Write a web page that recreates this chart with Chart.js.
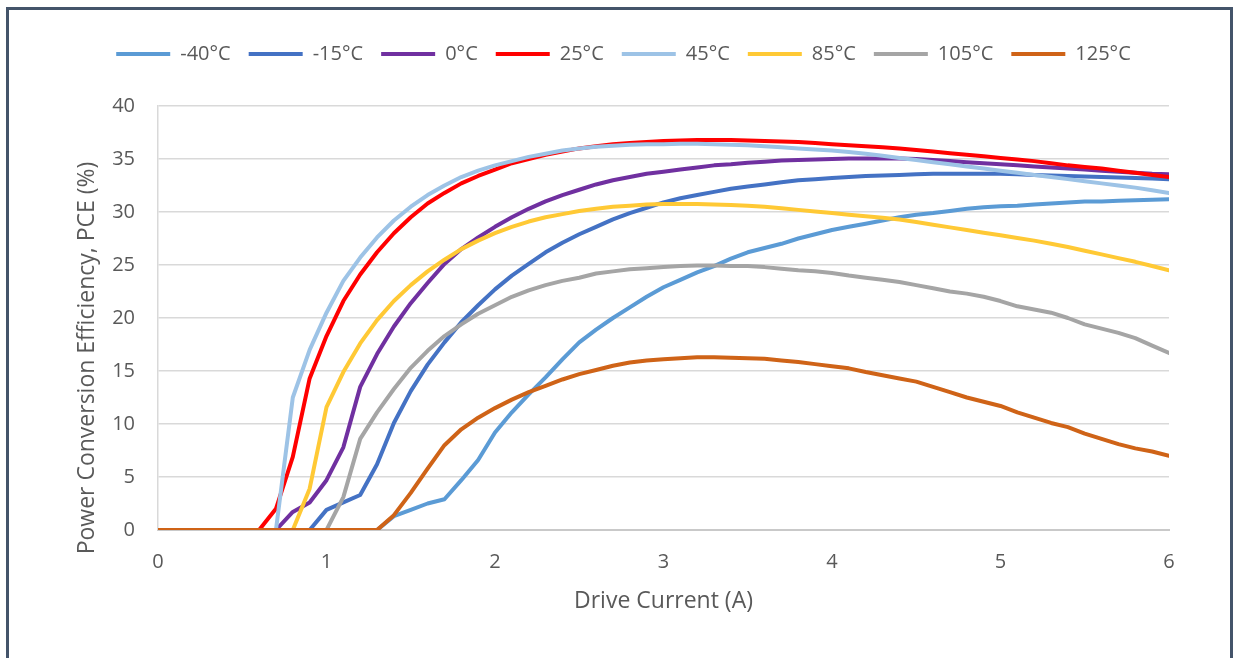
<!DOCTYPE html>
<html>
<head>
<meta charset="utf-8">
<title>PCE vs Drive Current</title>
<script src="https://cdn.jsdelivr.net/npm/chart.js@4.4.1/dist/chart.umd.min.js"></script>
<style>
  html, body { margin: 0; padding: 0; background: #fff; overflow: hidden; }
  #frame { position: absolute; left: 6px; top: 7px; width: 1221px; height: 700px; border: 3px solid #44546a; }
  #box { position: relative; width: 1221px; height: 648px; }
</style>
</head>
<body>
<div id="frame"><div id="box"><canvas id="myChart"></canvas></div></div>
<script>
// Drive current steps (A)
var currents = [
  0.0, 0.1, 0.2, 0.3, 0.4, 0.5, 0.6, 0.7, 0.8, 0.9,
  1.0, 1.1, 1.2, 1.3, 1.4, 1.5, 1.6, 1.7, 1.8, 1.9,
  2.0, 2.1, 2.2, 2.3, 2.4, 2.5, 2.6, 2.7, 2.8, 2.9,
  3.0, 3.1, 3.2, 3.3, 3.4, 3.5, 3.6, 3.7, 3.8, 3.9,
  4.0, 4.1, 4.2, 4.3, 4.4, 4.5, 4.6, 4.7, 4.8, 4.9,
  5.0, 5.1, 5.2, 5.3, 5.4, 5.5, 5.6, 5.7, 5.8, 5.9,
  6.0,
];

var tempLabels = ["-40°C", "-15°C", "0°C", "25°C", "45°C", "85°C", "105°C", "125°C"];
var tempColors = ["#5b9bd5", "#4472c4", "#7030a0", "#ff0000", "#9dc3e6", "#ffc935", "#a5a5a5", "#cf6317"];

// PCE (%) per temperature, one value per current step
var pceM40 = [
  0, 0, 0, 0, 0, 0, 0, 0, 0, 0,
  0, 0, 0, 0, 1.3, 1.9, 2.5, 2.9, 4.7, 6.6,
  9.2, 11.1, 12.8, 14.4, 16.1, 17.7, 18.9, 20.0, 21.0, 22.0,
  22.9, 23.6, 24.3, 24.9, 25.6, 26.2, 26.6, 27.0, 27.5, 27.9,
  28.3, 28.6, 28.9, 29.2, 29.5, 29.75, 29.9, 30.1, 30.3, 30.45,
  30.55, 30.6, 30.7, 30.8, 30.9, 31.0, 31.0, 31.05, 31.1, 31.15,
  31.2,
];
var pceM15 = [
  0, 0, 0, 0, 0, 0, 0, 0, 0, 0,
  1.9, 2.6, 3.3, 6.2, 10.1, 13.1, 15.6, 17.7, 19.6, 21.2,
  22.7, 24.0, 25.1, 26.2, 27.1, 27.9, 28.6, 29.3, 29.9, 30.4,
  30.9, 31.3, 31.6, 31.9, 32.2, 32.4, 32.6, 32.8, 33.0, 33.1,
  33.2, 33.3, 33.4, 33.45, 33.5, 33.55, 33.6, 33.6, 33.6, 33.6,
  33.6, 33.55, 33.5, 33.45, 33.4, 33.35, 33.3, 33.25, 33.2, 33.15,
  33.1,
];
var pce0 = [
  0, 0, 0, 0, 0, 0, 0, 0, 1.7, 2.6,
  4.7, 7.8, 13.5, 16.6, 19.2, 21.4, 23.3, 25.1, 26.5, 27.6,
  28.6, 29.5, 30.3, 31.0, 31.6, 32.1, 32.6, 33.0, 33.3, 33.6,
  33.8, 34.0, 34.2, 34.4, 34.5, 34.65, 34.75, 34.85, 34.9, 34.95,
  35.0, 35.05, 35.05, 35.05, 35.05, 35.0, 34.9, 34.8, 34.7, 34.6,
  34.5, 34.4, 34.3, 34.2, 34.1, 34.0, 33.9, 33.8, 33.7, 33.6,
  33.55,
];
var pce25 = [
  0, 0, 0, 0, 0, 0, 0, 2.0, 6.9, 14.3,
  18.3, 21.6, 24.1, 26.2, 28.0, 29.5, 30.8, 31.8, 32.7, 33.4,
  34.0, 34.6, 35.0, 35.4, 35.7, 36.0, 36.2, 36.4, 36.5, 36.6,
  36.7, 36.75, 36.8, 36.8, 36.8, 36.75, 36.7, 36.65, 36.6, 36.5,
  36.4, 36.3, 36.2, 36.1, 36.0, 35.85, 35.7, 35.55, 35.4, 35.25,
  35.1, 34.95, 34.8, 34.6, 34.4, 34.25, 34.1, 33.9, 33.7, 33.5,
  33.3,
];
var pce45 = [
  0, 0, 0, 0, 0, 0, 0, 0, 12.5, 17.0,
  20.5, 23.5, 25.7, 27.6, 29.2, 30.5, 31.6, 32.5, 33.3, 33.9,
  34.4, 34.8, 35.2, 35.5, 35.8, 36.0, 36.15, 36.25, 36.35, 36.4,
  36.4, 36.45, 36.45, 36.4, 36.35, 36.3, 36.2, 36.1, 36.0, 35.9,
  35.8, 35.65, 35.5, 35.3, 35.1, 34.9, 34.7, 34.5, 34.3, 34.1,
  33.9, 33.7, 33.5, 33.3, 33.1, 32.9, 32.7, 32.5, 32.3, 32.05,
  31.8,
];
var pce85 = [
  0, 0, 0, 0, 0, 0, 0, 0, 0, 3.9,
  11.6, 14.9, 17.6, 19.8, 21.6, 23.1, 24.4, 25.5, 26.5, 27.3,
  28.0, 28.6, 29.1, 29.5, 29.8, 30.1, 30.3, 30.5, 30.6, 30.7,
  30.75, 30.75, 30.75, 30.7, 30.65, 30.6, 30.5, 30.35, 30.2, 30.05,
  29.9, 29.75, 29.6, 29.45, 29.3, 29.05, 28.8, 28.55, 28.3, 28.05,
  27.8, 27.55, 27.3, 27.0, 26.7, 26.35, 26.0, 25.65, 25.3, 24.9,
  24.5,
];
var pce105 = [
  0, 0, 0, 0, 0, 0, 0, 0, 0, 0,
  0, 3.1, 8.6, 11.1, 13.3, 15.3, 16.9, 18.3, 19.4, 20.4,
  21.2, 22.0, 22.6, 23.1, 23.5, 23.8, 24.2, 24.4, 24.6, 24.7,
  24.8, 24.9, 24.95, 24.95, 24.9, 24.9, 24.8, 24.65, 24.5, 24.4,
  24.25, 24.0, 23.8, 23.6, 23.4, 23.1, 22.8, 22.5, 22.3, 22.0,
  21.6, 21.1, 20.8, 20.5, 20.0, 19.4, 19.0, 18.6, 18.1, 17.4,
  16.7,
];
var pce125 = [
  0, 0, 0, 0, 0, 0, 0, 0, 0, 0,
  0, 0, 0, 0, 1.4, 3.5, 5.8, 8.0, 9.5, 10.6,
  11.5, 12.3, 13.0, 13.6, 14.2, 14.7, 15.1, 15.5, 15.8, 16.0,
  16.1, 16.2, 16.3, 16.3, 16.25, 16.2, 16.15, 16.0, 15.85, 15.65,
  15.45, 15.25, 14.9, 14.6, 14.3, 14.0, 13.5, 13.0, 12.5, 12.1,
  11.7, 11.1, 10.6, 10.1, 9.7, 9.1, 8.6, 8.1, 7.7, 7.4,
  7.0,
];

var pceSeries = [pceM40, pceM15, pce0, pce25, pce45, pce85, pce105, pce125];

var textColor = "#595959";
var fontFamily = "'Open Sans', 'Liberation Sans', sans-serif";

Chart.defaults.font.family = fontFamily;
Chart.defaults.color = textColor;

// later series are painted on top, legend keeps the original order
var datasets = pceSeries.map(function (series, i) {
  return {
    label: tempLabels[i],
    data: series.map(function (v, k) {
      return { x: currents[k], y: v };
    }),
    borderColor: tempColors[i],
    backgroundColor: tempColors[i],
    borderWidth: 4,
    borderCapStyle: "round",
    borderJoinStyle: "round",
    pointRadius: 0,
    tension: 0,
    order: -i,
  };
});

// extra space between the legend and the plot
var legendGap = {
  id: "legendGap",
  beforeInit: function (chart) {
    var fit = chart.legend.fit;
    chart.legend.fit = function () {
      fit.bind(chart.legend)();
      this.height += 32;
    };
  },
};

// y axis title, sits a bit lower than the plot centre
var yTitle = {
  id: "yTitle",
  afterDraw: function (chart) {
    var ctx = chart.ctx;
    var area = chart.chartArea;
    ctx.save();
    ctx.translate(78, (area.top + area.bottom) / 2 + 40);
    ctx.rotate(-Math.PI / 2);
    ctx.font = "23px " + fontFamily;
    ctx.fillStyle = textColor;
    ctx.textAlign = "center";
    ctx.textBaseline = "middle";
    ctx.fillText("Power Conversion Efficiency, PCE (%)", 0, 0);
    ctx.restore();
  },
};

var ctx = document.getElementById("myChart").getContext("2d");
var myChart = new Chart(ctx, {
  type: "line",
  data: { datasets: datasets },
  plugins: [legendGap, yTitle],
  options: {
    responsive: true,
    maintainAspectRatio: false,
    animation: false,
    layout: { padding: { left: 69, right: 61, top: 16, bottom: 39 } },
    plugins: {
      tooltip: { enabled: false },
      legend: {
        position: "top",
        reverse: true,
        labels: {
          usePointStyle: true,
          pointStyle: "line",
          pointStyleWidth: 54,
          padding: 18,
          color: textColor,
          font: { size: 20 },
        },
      },
    },
    scales: {
      x: {
        type: "linear",
        min: 0,
        max: 6,
        ticks: { stepSize: 1, padding: 20, font: { size: 20 }, color: textColor },
        grid: { display: false, drawTicks: false },
        border: { display: true, color: "#c9c9c9", width: 2 },
        title: {
          display: true,
          text: "Drive Current (A)",
          color: textColor,
          font: { size: 23 },
          padding: { top: 0, bottom: 4 },
        },
        afterFit: function (scale) {
          scale.height = 89;
        },
      },
      y: {
        min: 0,
        max: 40,
        ticks: { stepSize: 5, padding: 23, font: { size: 20 }, color: textColor },
        grid: { color: "#d9d9d9", lineWidth: 1.5, drawTicks: false },
        border: { display: true, color: "#d9d9d9", width: 1.5 },
        afterFit: function (scale) {
          scale.width = 80;
        },
      },
    },
  },
});
</script>
</body>
</html>
